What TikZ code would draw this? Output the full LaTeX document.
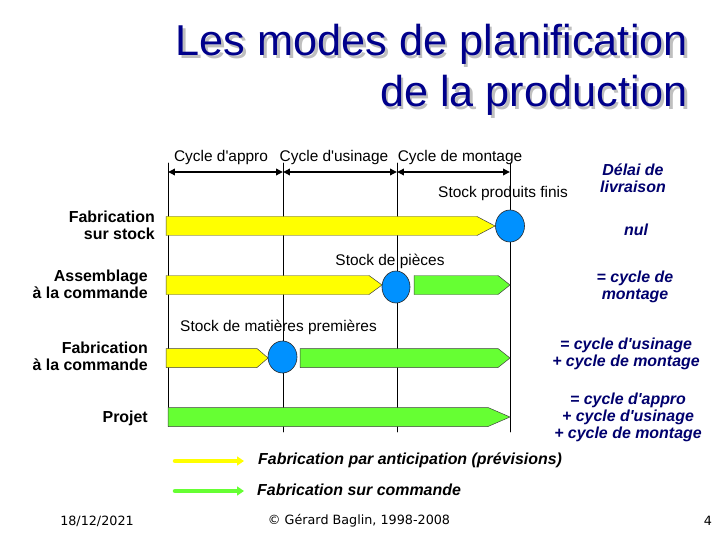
\documentclass[tikz,border=0pt]{standalone}
\usepackage{fontspec}
\setmainfont{Liberation Sans}[Ligatures=TeXOff]
\newfontfamily\piedfont{DejaVu Sans}
\usetikzlibrary{arrows.meta}
\definecolor{titrebleu}{RGB}{0,0,139}
\definecolor{delaibleu}{RGB}{0,0,110}
\definecolor{jaune}{RGB}{255,255,0}
\definecolor{vert}{RGB}{102,255,51}
\definecolor{stockbleu}{RGB}{0,145,255}
\tikzset{
  cycleline/.style={line width=0.6pt},
  dimarrow/.style={line width=1.8pt,{Triangle[length=7pt,width=6.5pt]}-{Triangle[length=7pt,width=6.5pt]}},
  barre/.style={draw=black!75,line width=0.5pt},
  stock/.style={draw=black!85,fill=stockbleu,line width=0.6pt},
  lbl/.style={font=\fontsize{15.5}{17}\selectfont,inner sep=0pt},
  modelbl/.style={font=\fontsize{16}{17}\selectfont\bfseries,align=right,anchor=east,inner sep=0pt},
  delailbl/.style={font=\fontsize{16}{17}\selectfont\bfseries\itshape,text=delaibleu,align=center,inner sep=0pt},
  legtxt/.style={font=\fontsize{16}{17}\selectfont\bfseries\itshape,anchor=west,inner sep=0pt},
  legende/.style={line width=4.5pt,-{Triangle[length=7pt,width=9pt]}},
  titre/.style={font=\fontsize{43.4}{51}\selectfont,anchor=base east,inner sep=0pt,text=titrebleu},
  pied/.style={font=\piedfont\fontsize{12.8}{14}\selectfont,inner sep=0pt},
}
% title text with its grey shadow
\newcommand{\ombre}[1]{\makebox[0pt][l]{\hspace{2.5bp}\raisebox{-2.5bp}{\color{black!25}#1}}#1}
% bar: fill colour, left x, body end x, tip x, centre y
\newcommand{\fleche}[5]{%
  \filldraw[barre,fill=#1] (#2,#5-9.5) -- (#3,#5-9.5) -- (#4,#5) -- (#3,#5+9.5) -- (#2,#5+9.5) -- cycle;}
\begin{document}
\begin{tikzpicture}[x=1bp,y=-1bp,line cap=round,line join=round]
  \useasboundingbox[fill=white] (0,0) rectangle (720,540);
  % title
  \node[titre] (titre1) at (688,56) {\ombre{Les modes de planification}};
  \node[titre] (titre2) at (688,107) {\ombre{de la production}};
  % cycles
  \coordinate (c0) at (168,172);
  \coordinate (c1) at (283,172);
  \coordinate (c2) at (397,172);
  \coordinate (c3) at (510,172);
  \draw[cycleline] (168,163) -- (168,426);
  \draw[cycleline] (283,163) -- (283,432);
  \draw[cycleline] (397,163) -- (397,432);
  \draw[cycleline] (510,163) -- (510,432);
  \draw[dimarrow] (c0) -- (c1);
  \draw[dimarrow] (c1) -- (c2);
  \draw[dimarrow] (c2) -- (c3);
  \node[lbl] (appro) at (221,158) {Cycle d'appro};
  \node[lbl] (usinage) at (334,158) {Cycle d'usinage};
  \node[lbl] (montage) at (460,158) {Cycle de montage};
  % stocks
  \node[lbl] (spf) at (503,194) {Stock produits finis};
  \node[lbl] (sp) at (390,261) {Stock de pièces};
  \node[lbl] (smp) at (278.5,327) {Stock de matières premières};
  % fabrication sur stock
  \fleche{jaune}{166}{477}{495}{226}
  \filldraw[stock] (510,226) ellipse [x radius=14.5, y radius=16];
  % assemblage a la commande
  \fleche{jaune}{166}{369}{382}{285}
  \filldraw[stock] (396,287) ellipse [x radius=14, y radius=16];
  \fleche{vert}{414}{498}{510}{285}
  % fabrication a la commande
  \fleche{jaune}{166}{257}{268}{358}
  \filldraw[stock] (282.5,357) ellipse [x radius=14.5, y radius=16];
  \fleche{vert}{300}{498}{510}{358}
  % projet
  \fleche{vert}{168}{488}{510}{417}
  % modes
  \node[modelbl] (mode1) at (155,225) {Fabrication\\sur stock};
  \node[modelbl] (mode2) at (148,284.5) {Assemblage\\à la commande};
  \node[modelbl] (mode3) at (148,356.5) {Fabrication\\à la commande};
  \node[modelbl] (mode4) at (148,418) {Projet};
  % delais
  \node[delailbl] (delai) at (633,178) {Délai de\\livraison};
  \node[delailbl] (delai1) at (636,230) {nul};
  \node[delailbl] (delai2) at (635,286.5) {= cycle de\\montage};
  \node[delailbl] (delai3) at (626,354) {= cycle d'usinage\\+ cycle de montage};
  \node[delailbl] (delai4) at (628,417) {= cycle d'appro\\+ cycle d'usinage\\+ cycle de montage};
  % legende
  \coordinate (lj0) at (175,461);
  \coordinate (lj1) at (244,461);
  \coordinate (lv0) at (175,491);
  \coordinate (lv1) at (244,491);
  \draw[legende,jaune] (lj0) -- (lj1);
  \draw[legende,vert] (lv0) -- (lv1);
  \node[legtxt] (antic) at (258,460) {Fabrication par anticipation (prévisions)};
  \node[legtxt] (cmde) at (257,490) {Fabrication sur commande};
  % pied de page
  \node[pied] (date) at (97,521) {18/12/2021};
  \node[pied] (auteur) at (359,521) {© Gérard Baglin, 1998-2008};
  \node[pied] (page) at (708,521) {4};
\end{tikzpicture}
\end{document}
